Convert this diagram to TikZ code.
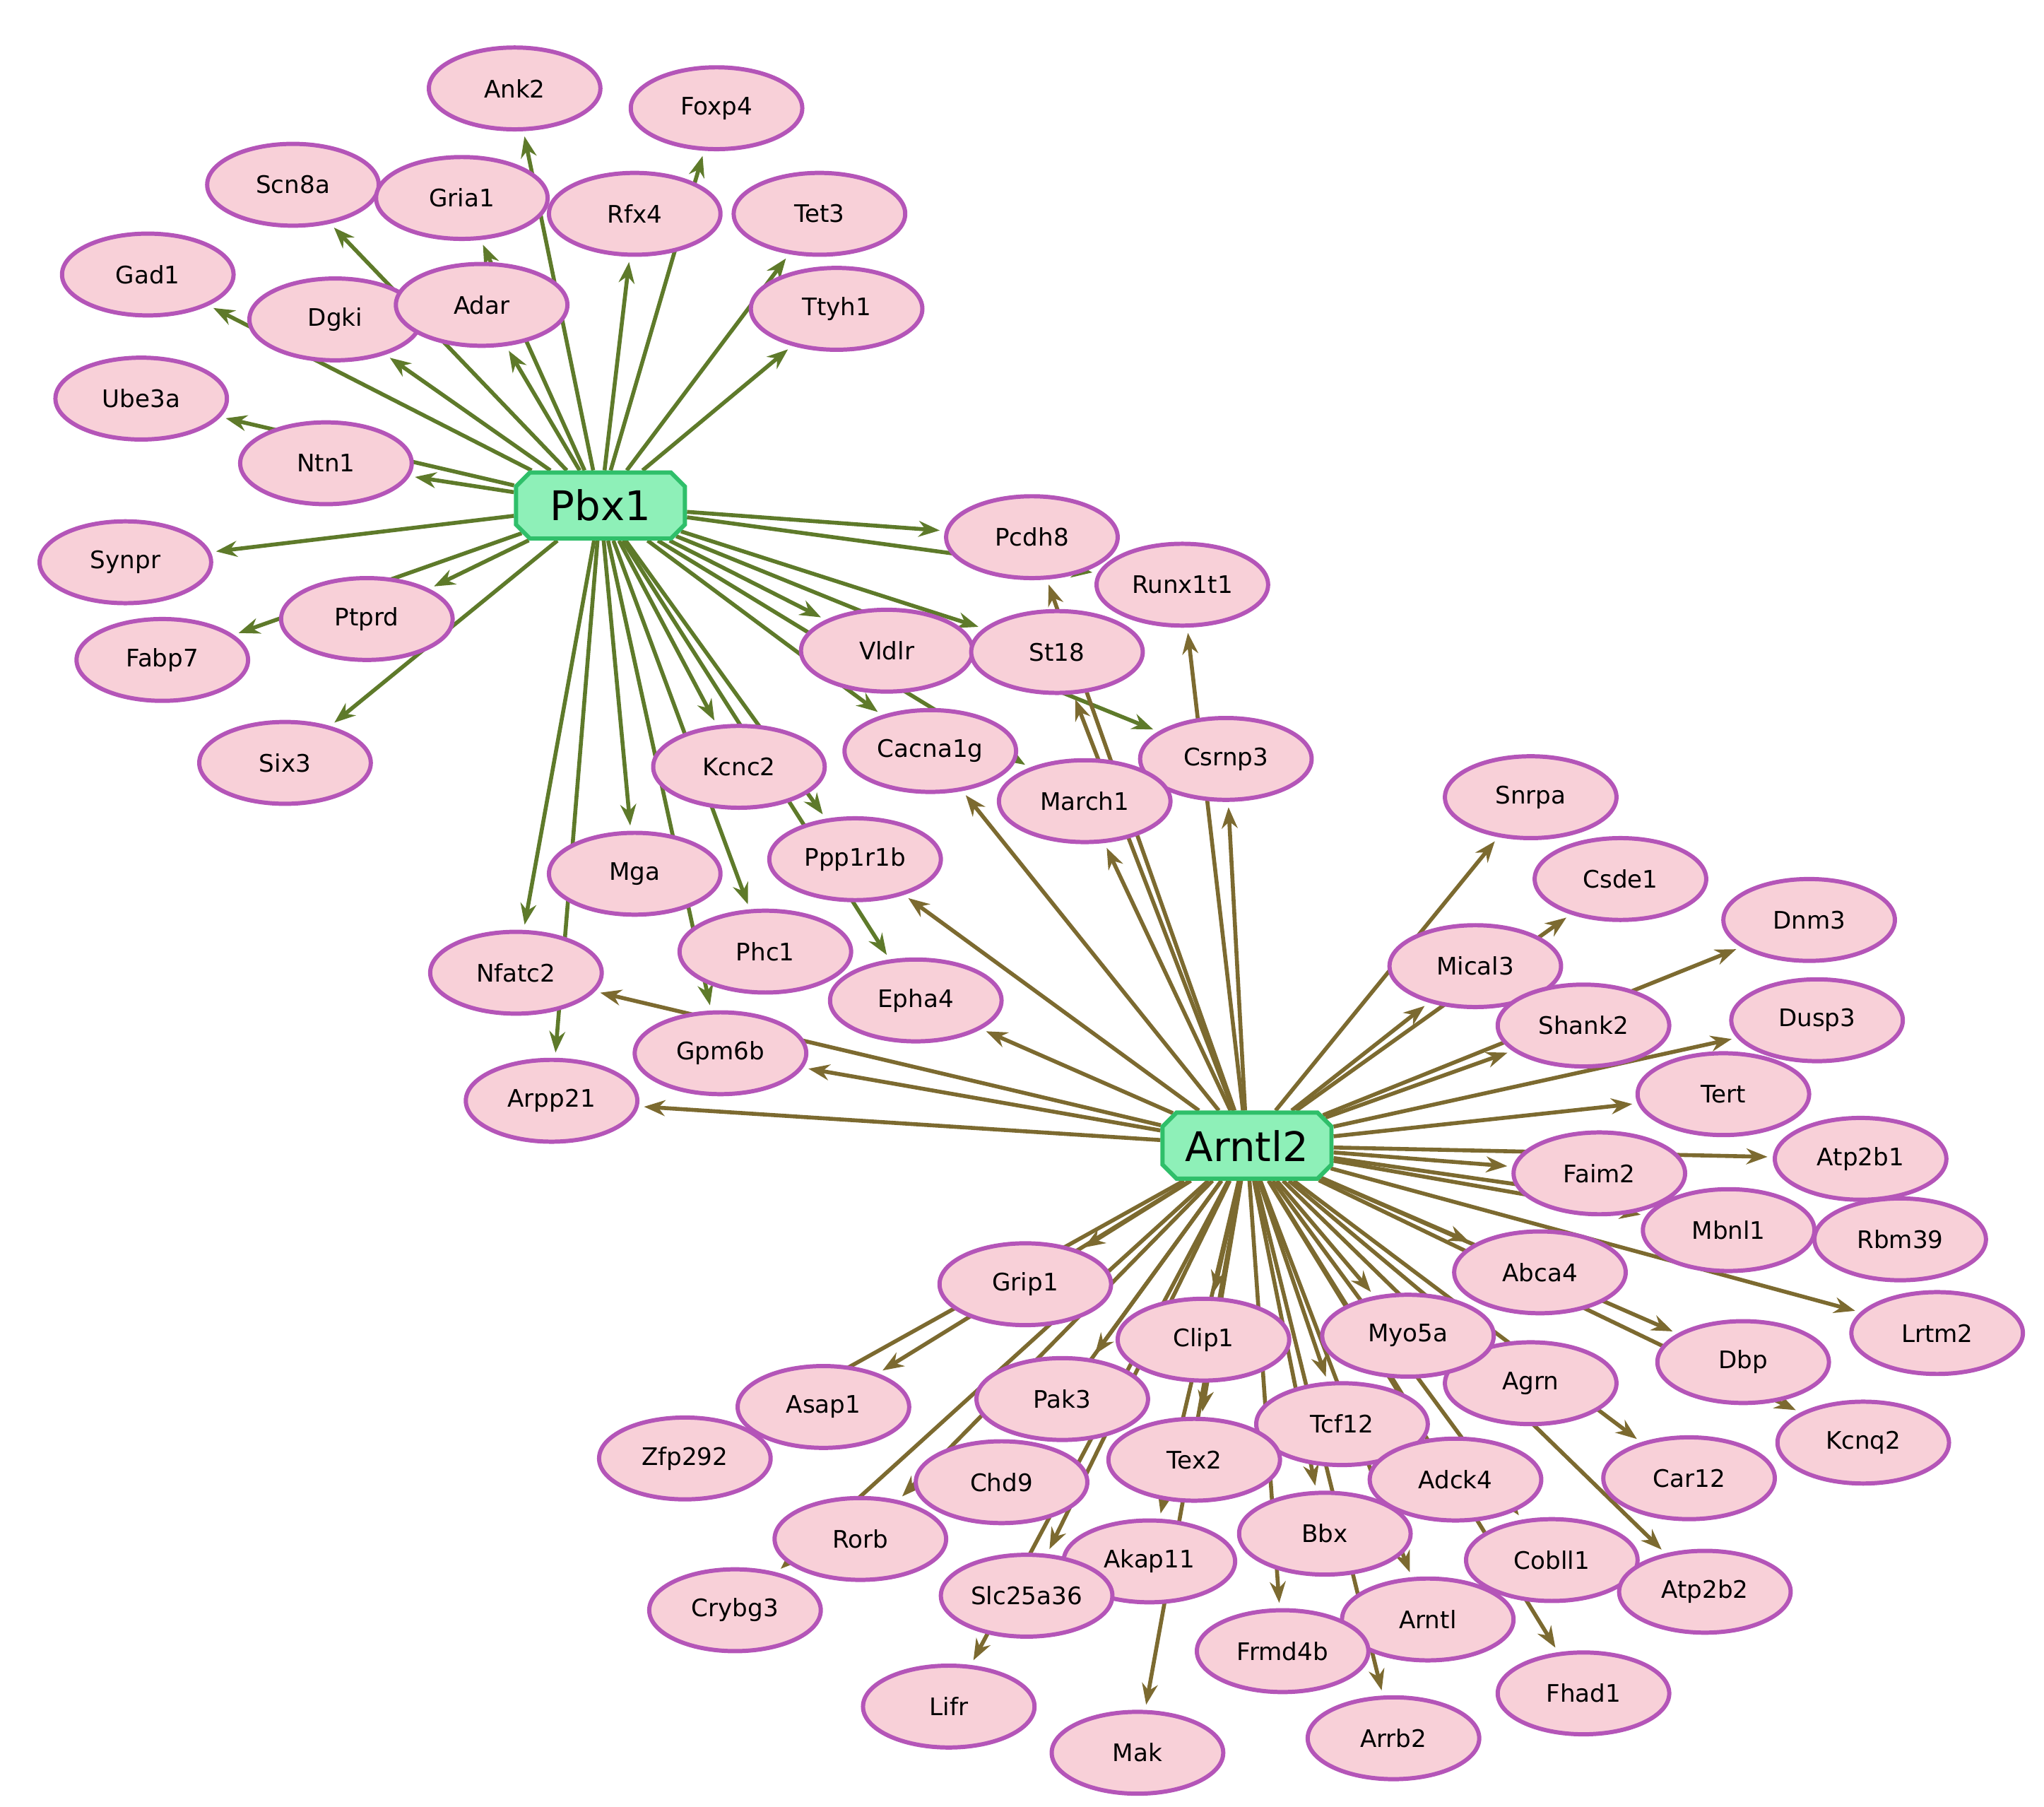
\documentclass[tikz,border=0pt]{standalone}
\usepackage{fontspec}
\setmainfont{DejaVu Sans}
\usetikzlibrary{shapes.geometric,shapes.misc,arrows.meta}
\pgfdeclarelayer{bg}\pgfsetlayers{bg,main}
\definecolor{pinkf}{HTML}{F8D0D8}
\definecolor{purp}{HTML}{B455B8}
\definecolor{hubf}{HTML}{8EF0B8}
\definecolor{hubd}{HTML}{2FBF6A}
\definecolor{pbxe}{HTML}{5E7A2A}
\definecolor{arne}{HTML}{7C6A30}
\tikzset{
 gene/.style={ellipse,fill=pinkf,draw=purp,line width=1.6mm,minimum width=65mm,minimum height=31mm,inner sep=0pt,font=\fontsize{26}{30}\selectfont},
 hub/.style={chamfered rectangle,chamfered rectangle xsep=4mm,fill=hubf,draw=hubd,line width=1.6mm,minimum width=64mm,minimum height=25mm,inner sep=0pt,font=\fontsize{44}{48}\selectfont},
 pe/.style={draw=pbxe,line width=1.5mm,-{Stealth[length=8mm,width=6mm]},shorten >=2mm},
 ae/.style={draw=arne,line width=1.5mm,-{Stealth[length=8mm,width=6mm]},shorten >=2mm}
}
\begin{document}
\begin{tikzpicture}[x=0.5mm,y=-0.5mm]
\useasboundingbox (0,0) rectangle (1549,1369);
\node[hub] (Pbx1) at (455,383) {Pbx1};
\node[hub] (Arntl2) at (945,868) {Arntl2};
\foreach \n/\x/\y in {Ank2/390/67,Foxp4/543/82,Scn8a/222/140,Gria1/350/150,Rfx4/481/162,Tet3/621/162,Gad1/112/208,Dgki/254/242,Adar/365/231,Ttyh1/634/234,Ube3a/107/302,Ntn1/247/351,Synpr/95/426,Ptprd/278/469,Fabp7/123/500,Six3/216/578,Pcdh8/782/407,Runx1t1/896/443,Vldlr/672/493,St18/801/494,Csrnp3/929/575,Cacna1g/705/569,March1/822/607,Kcnc2/560/581,Ppp1r1b/648/651,Mga/481/662,Phc1/580/721,Epha4/694/758,Nfatc2/391/737,Gpm6b/546/798,Arpp21/418/834,
Snrpa/1160/604,Csde1/1228/666,Dnm3/1371/697,Mical3/1118/732,Shank2/1200/777,Dusp3/1377/773,Tert/1306/829,Atp2b1/1410/878,Faim2/1212/889,Mbnl1/1310/932,Rbm39/1440/939,Abca4/1167/964,Lrtm2/1468/1010,Dbp/1321/1032,Kcnq2/1412/1093,Agrn/1160/1048,Car12/1280/1120,Myo5a/1067/1012,Clip1/912/1015,Grip1/777/973,Asap1/624/1066,Zfp292/519/1105,Pak3/805/1060,Tcf12/1017/1079,Tex2/905/1106,Adck4/1103/1121,Chd9/759/1123,Rorb/652/1166,Bbx/1004/1162,Cobll1/1176/1182,Atp2b2/1292/1206,Akap11/871/1183,Crybg3/557/1220,Slc25a36/778/1209,Arntl/1082/1227,Frmd4b/972/1251,Fhad1/1200/1283,Lifr/719/1293,Mak/862/1328,Arrb2/1056/1317}
  \node[gene] (\n) at (\x,\y) {\n};
\begin{pgfonlayer}{bg}
\foreach \t in {Ank2,Foxp4,Scn8a,Gria1,Rfx4,Tet3,Gad1,Dgki,Adar,Ttyh1,Ube3a,Ntn1,Synpr,Ptprd,Fabp7,Six3,Pcdh8,Runx1t1,Vldlr,St18,Csrnp3,Cacna1g,March1,Kcnc2,Ppp1r1b,Mga,Phc1,Epha4,Nfatc2,Gpm6b,Arpp21}
  \draw[pe] (Pbx1) -- (\t);
\foreach \t in {Nfatc2,Gpm6b,Arpp21,Epha4,Ppp1r1b,Cacna1g,March1,Csrnp3,Runx1t1,St18,Pcdh8,Snrpa,Csde1,Dnm3,Mical3,Shank2,Dusp3,Tert,Atp2b1,Faim2,Mbnl1,Rbm39,Abca4,Lrtm2,Dbp,Kcnq2,Agrn,Car12,Myo5a,Clip1,Grip1,Asap1,Zfp292,Pak3,Tcf12,Tex2,Adck4,Chd9,Rorb,Bbx,Cobll1,Atp2b2,Akap11,Crybg3,Slc25a36,Arntl,Frmd4b,Fhad1,Lifr,Mak,Arrb2}
  \draw[ae] (Arntl2) -- (\t);
\end{pgfonlayer}
\end{tikzpicture}
\end{document}
